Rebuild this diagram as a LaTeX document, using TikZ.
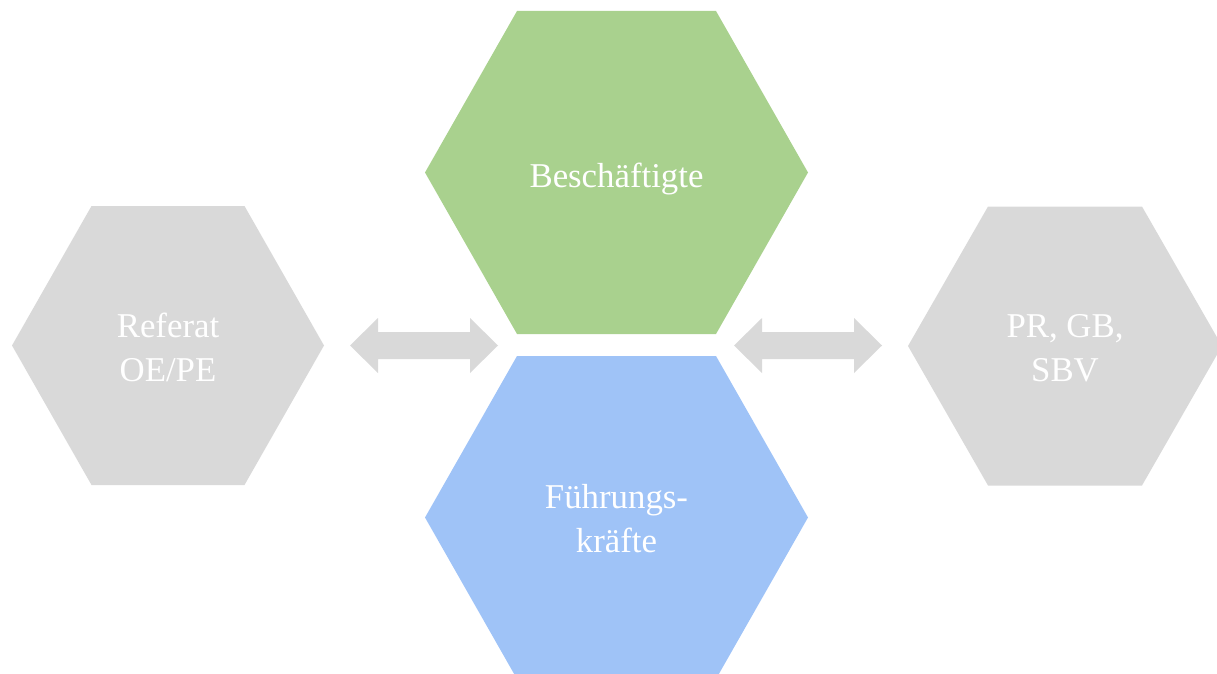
\documentclass[tikz,border=0pt]{standalone}
\usepackage{fontspec}
\setmainfont{Liberation Serif}
\definecolor{hexgreen}{HTML}{A9D18E}
\definecolor{hexblue}{HTML}{9FC3F7}
\definecolor{hexgray}{HTML}{D9D9D9}
% #1 name, #2 cx, #3 cy, #4 half width, #5 half height, #6 half top edge, #7 colour
\newcommand\drawhexagon[7]{%
  \fill[#7] ({#2-#4},#3) -- ({#2-#6},{#3-#5}) -- ({#2+#6},{#3-#5}) -- ({#2+#4},#3)
     -- ({#2+#6},{#3+#5}) -- ({#2-#6},{#3+#5}) -- cycle;
  \coordinate (#1) at (#2,#3);}
% #1 name, #2 cx, #3 cy
\newcommand\drawdoublearrow[3]{%
  \coordinate (#1) at (#2,#3);
  \fill[hexgray] ({#2-74},#3) -- ({#2-46},{#3-27.5}) -- ({#2-46},{#3-13.5}) -- ({#2+46},{#3-13.5})
     -- ({#2+46},{#3-27.5}) -- ({#2+74},#3) -- ({#2+46},{#3+27.5}) -- ({#2+46},{#3+13.5})
     -- ({#2-46},{#3+13.5}) -- ({#2-46},{#3+27.5}) -- cycle;}
\begin{document}
\begin{tikzpicture}[x=1pt,y=-1pt,
  hexlabel/.style={text=white, font=\fontsize{34.8}{44}\selectfont, align=center, inner sep=0pt}]
\useasboundingbox (0,0) rectangle (1217,674);
\begin{scope}
\clip (0,0) rectangle (1217,674);
\drawhexagon{green}{616.5}{172.5}{191.5}{161.5}{99.5}{hexgreen}
\drawhexagon{blue}{616.5}{517.5}{191.5}{161.5}{99.5}{hexblue}
\drawhexagon{left}{168}{345.5}{156}{139.5}{76.5}{hexgray}
\drawhexagon{right}{1065}{346}{157}{139.5}{77}{hexgray}
\drawdoublearrow{arrowL}{424}{345.5}
\drawdoublearrow{arrowR}{808}{345.5}
\end{scope}
\node[hexlabel] (tgreen) at ([yshift=-7]green) {Beschäftigte};
\node[hexlabel] (tblue) at ([yshift=-1.5]blue) {Führungs-\\kräfte};
\node[hexlabel] (tleft) at ([yshift=-2]left) {Referat\\OE/PE};
\node[hexlabel] (tright) at ([yshift=-2.5]right) {PR, GB,\\SBV};
\end{tikzpicture}
\end{document}
